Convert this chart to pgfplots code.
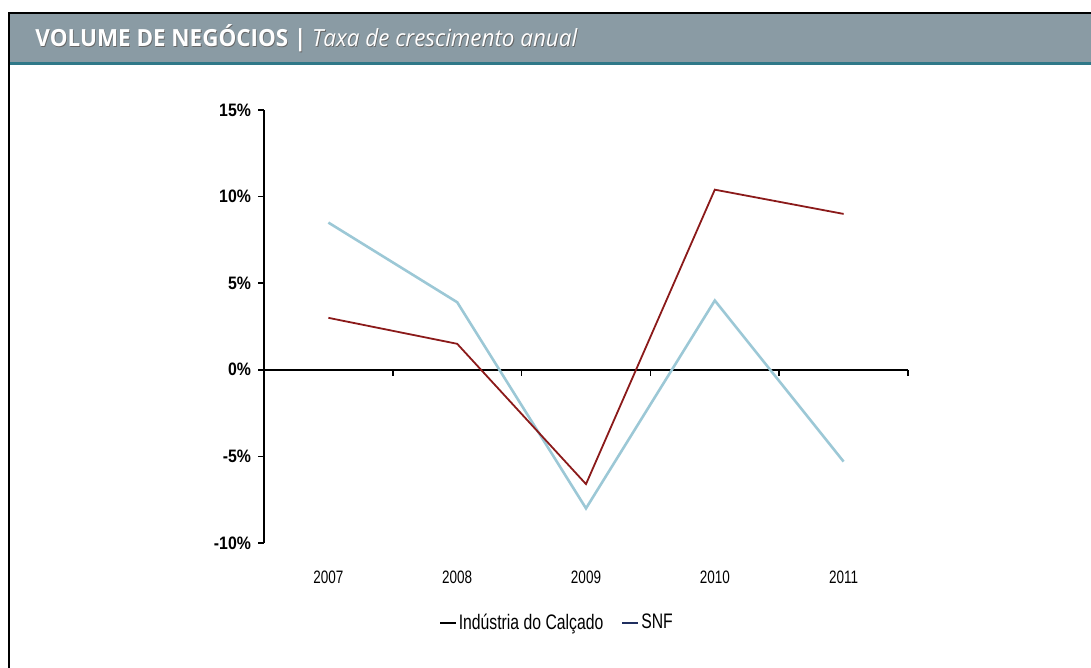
\documentclass[border=0pt]{standalone}
\usepackage{pgfplots}
\pgfplotsset{compat=1.18}
\usepackage{fontspec}
\setmainfont{Liberation Sans}
\newfontfamily\narrowfont{Liberation Sans}[FakeStretch=0.75]
\newfontfamily\ylabfont{Liberation Sans}[FakeStretch=0.88]
\newfontfamily\titlefont{Open Sans}[FakeStretch=0.95]
\definecolor{hdr}{HTML}{8A9BA4}
\definecolor{hdrline}{HTML}{2F7888}
\definecolor{calc}{HTML}{8B1A1A}
\definecolor{snf}{HTML}{9CC8D6}
\definecolor{navy}{HTML}{1F2F5F}
\begin{document}
\begin{tikzpicture}
\useasboundingbox (0,0) rectangle (545.5pt,-334pt);
\fill[hdr] (4.5pt,-6.5pt) rectangle (545.5pt,-31.5pt);
\fill[hdrline] (4.5pt,-31pt) rectangle (545.5pt,-32.5pt);
\draw[line width=1pt] (4.5pt,-334pt) -- (4.5pt,-6.5pt) -- (545.5pt,-6.5pt);
\node[anchor=west,text=black!60,inner sep=0pt] at (17.9pt,-19.6pt) {\titlefont\fontsize{11.8}{13}\selectfont\bfseries VOLUME DE NEGÓCIOS | \mdseries\itshape Taxa de crescimento anual};
\node[anchor=west,text=white,inner sep=0pt] at (17.5pt,-19.2pt) {\titlefont\fontsize{11.8}{13}\selectfont\bfseries VOLUME DE NEGÓCIOS | \mdseries\itshape Taxa de crescimento anual};
\begin{axis}[
  at={(132pt,-55pt)}, anchor=north west,
  scale only axis, width=322pt, height=216.5pt,
  xmin=-0.5, xmax=4.5, ymin=-10, ymax=15,
  axis x line=middle, axis y line=left,
  axis line style={-, line width=0.8pt},
  xtick={0.5,1.5,2.5,3.5,4.5}, xticklabels={},
  extra x ticks={0,1,2,3,4},
  extra x tick labels={2007,2008,2009,2010,2011},
  extra x tick style={major tick length=0pt, xticklabel style={yshift=-97pt}},
  ytick={-10,-5,0,5,10,15},
  yticklabels={-10\%,-5\%,0\%,5\%,10\%,15\%},
  tick align=outside, major tick length=3pt,
  tick style={black, line width=0.8pt},
  xticklabel style={font=\narrowfont\fontsize{9}{10}\selectfont},
  yticklabel style={font=\ylabfont\fontsize{9}{10}\selectfont\bfseries},
  /pgf/number format/assume math mode=true,
  clip=false,
  legend style={at={(0.455,-0.185)}, anchor=center, draw=none, fill=none,
    legend columns=2, font=\narrowfont\fontsize{10.5}{12}\selectfont,
    /tikz/every even column/.append style={column sep=8pt},
    nodes={inner xsep=1pt}},
  legend image code/.code={\draw[#1] (0pt,0pt) -- (8pt,0pt);},
]
\addlegendimage{black, line width=0.8pt}
\addlegendentry{Indústria do Calçado}
\addlegendimage{navy, line width=1pt}
\addlegendentry{SNF}
\addplot[snf, line width=1.3pt, forget plot] coordinates {(0,8.5) (1,3.9) (2,-8.0) (3,4.0) (4,-5.3)};
\addplot[calc, line width=0.9pt, forget plot] coordinates {(0,3.0) (1,1.5) (2,-6.6) (3,10.4) (4,9.0)};
\end{axis}
\end{tikzpicture}
\end{document}
